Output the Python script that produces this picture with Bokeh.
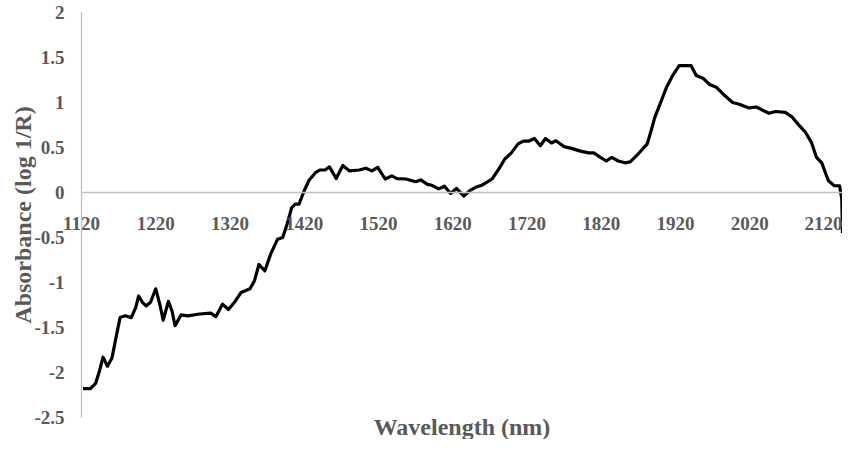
from bokeh.plotting import figure
from bokeh.models import FixedTicker, Label, Range1d
from bokeh.embed import file_html
from bokeh.resources import INLINE

wavelength = [1122, 1132, 1139, 1144, 1149, 1155, 1161, 1167, 1172, 1179,
              1187, 1193, 1197, 1202, 1207, 1213, 1220, 1226, 1230, 1237,
              1242, 1246, 1254, 1263, 1279, 1294, 1301, 1310, 1318, 1326,
              1335, 1347, 1353, 1359, 1367, 1375, 1384, 1391, 1397, 1403,
              1408, 1413, 1419, 1426, 1435, 1441, 1448, 1454, 1463, 1472,
              1481, 1494, 1503, 1511, 1519, 1529, 1538, 1545, 1557, 1570,
              1577, 1586, 1592, 1601, 1609, 1617, 1625, 1635, 1643, 1650,
              1659, 1673, 1682, 1690, 1699, 1708, 1715, 1722, 1730, 1738,
              1745, 1753, 1759, 1770, 1780, 1792, 1803, 1810, 1819, 1827,
              1834, 1843, 1852, 1859, 1870, 1882, 1887, 1892, 1901, 1908,
              1917, 1925, 1932, 1941, 1948, 1957, 1966, 1975, 1986, 1997,
              2006, 2019, 2029, 2036, 2046, 2055, 2068, 2077, 2085, 2095,
              2103, 2110, 2117, 2126, 2134, 2141, 2144, 2145]
absorbance = [-2.18, -2.18, -2.12, -1.99, -1.83, -1.93, -1.84, -1.59, -1.39, -1.37,
              -1.39, -1.28, -1.15, -1.22, -1.26, -1.22, -1.07, -1.26, -1.42, -1.21,
              -1.32, -1.48, -1.36, -1.37, -1.35, -1.34, -1.38, -1.24, -1.30, -1.22,
              -1.11, -1.07, -0.98, -0.80, -0.87, -0.68, -0.52, -0.50, -0.35, -0.17,
              -0.13, -0.13, 0.00, 0.13, 0.22, 0.25, 0.25, 0.285, 0.155, 0.30,
              0.24, 0.25, 0.27, 0.24, 0.28, 0.15, 0.185, 0.155, 0.15, 0.12,
              0.14, 0.09, 0.08, 0.04, 0.07, -0.01, 0.045, -0.04, 0.02, 0.055,
              0.08, 0.15, 0.26, 0.37, 0.44, 0.54, 0.57, 0.57, 0.60, 0.52,
              0.60, 0.55, 0.575, 0.51, 0.49, 0.46, 0.44, 0.44, 0.39, 0.35,
              0.39, 0.35, 0.33, 0.34, 0.43, 0.54, 0.68, 0.83, 1.02, 1.17,
              1.31, 1.41, 1.41, 1.41, 1.30, 1.27, 1.20, 1.17, 1.08, 1.00,
              0.98, 0.94, 0.95, 0.92, 0.88, 0.90, 0.89, 0.84, 0.76, 0.67,
              0.56, 0.39, 0.33, 0.13, 0.075, 0.075, -0.07, -0.45]

x_ticks = [1120, 1220, 1320, 1420, 1520, 1620, 1720, 1820, 1920, 2020, 2120]
x_tick_labels = ["1120", "1220", "1320", "1420", "1520", "1620", "1720", "1820", "1920", "2020", "2120"]
y_ticks = [-2.5, -2, -1.5, -1, -0.5, 0, 0.5, 1, 1.5, 2]
y_tick_labels = ["-2.5", "-2", "-1.5", "-1", "-0.5", "0", "0.5", "1", "1.5", "2"]
x_start, x_end = 1120, 2145
y_start, y_end = -2.5, 2
x_title = "Wavelength (nm)"
y_title = "Absorbance (log 1/R)"

FONT = "Liberation Serif"
GRAY = "#595959"
AXIS = "#bfbfbf"

# layout (pixels inside the figure) of the data area
W, H = 842, 439
PL, PR, PT, PB = 81, 842, 12, 417
sx = (PR - PL) / (x_end - x_start)
sy = (PB - PT) / (y_end - y_start)
x_lo = x_start - PL / sx
x_hi = x_end + (W - PR) / sx
y_hi = y_end + PT / sy
y_lo = y_start - (H - PB) / sy

p = figure(width=W, height=H,
           x_range=Range1d(x_lo, x_hi), y_range=Range1d(y_lo, y_hi),
           output_backend="svg", toolbar_location=None,
           min_border=0, min_border_left=0, min_border_right=0,
           min_border_top=0, min_border_bottom=0)
p.grid.visible = False
p.outline_line_color = None
p.background_fill_color = "white"
p.border_fill_color = "white"

p.line(wavelength, absorbance, line_color="black", line_width=3.2, line_join="round")

xa = p.xaxis[0]
xa.fixed_location = 0
xa.bounds = (x_start, x_end)
xa.ticker = FixedTicker(ticks=x_ticks)
xa.major_label_overrides = dict(zip(x_ticks, x_tick_labels))
xa.major_tick_line_color = None
xa.minor_tick_line_color = None
xa.major_tick_out = 0
xa.major_tick_in = 0
xa.axis_line_color = AXIS
xa.axis_line_width = 1.3
xa.major_label_standoff = 24
xa.major_label_text_font = FONT
xa.major_label_text_font_style = "bold"
xa.major_label_text_font_size = "19px"
xa.major_label_text_color = GRAY

ya = p.yaxis[0]
ya.fixed_location = x_start
ya.bounds = (y_start, y_end)
ya.ticker = FixedTicker(ticks=y_ticks)
ya.major_label_overrides = dict(zip(y_ticks, y_tick_labels))
ya.major_tick_line_color = None
ya.minor_tick_line_color = None
ya.major_tick_out = 0
ya.major_tick_in = 0
ya.axis_line_color = AXIS
ya.axis_line_width = 1.3
ya.major_label_standoff = 17
ya.major_label_text_font = FONT
ya.major_label_text_font_style = "bold"
ya.major_label_text_font_size = "19px"
ya.major_label_text_color = GRAY
ya.axis_label = y_title
ya.axis_label_text_font = FONT
ya.axis_label_text_font_style = "bold"
ya.axis_label_text_font_size = "24px"
ya.axis_label_text_color = GRAY
ya.axis_label_standoff = -5

p.add_layout(Label(x=(x_start + x_end) / 2, y=y_lo, y_offset=0,
                   text=x_title, text_align="center", text_baseline="bottom",
                   text_font=FONT, text_font_style="bold",
                   text_font_size="24px", text_color=GRAY))

open("out.html", "w").write(file_html(p, INLINE))
